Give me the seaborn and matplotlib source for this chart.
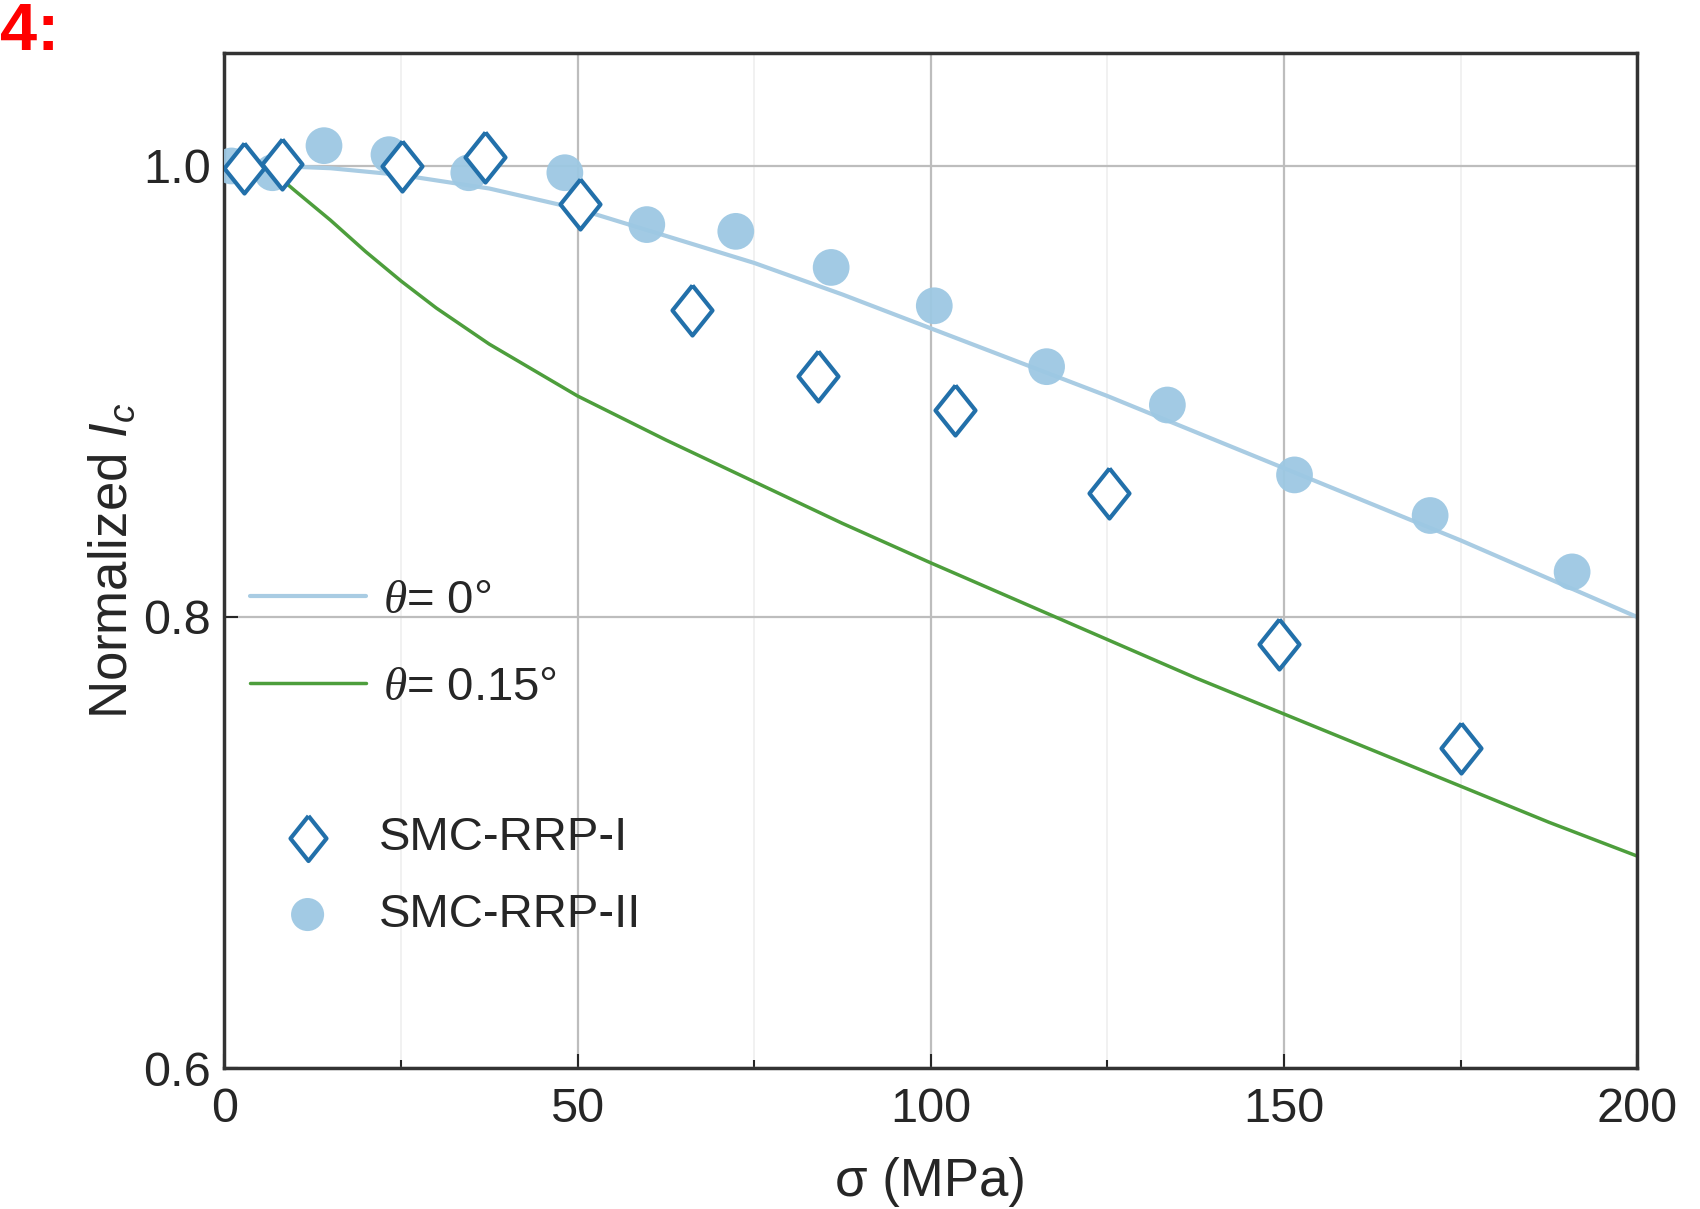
#!/usr/bin/env python3
"""Normalized Ic vs. transverse stress for SMC-RRP strands, with model curves."""

import matplotlib

matplotlib.use("Agg")

import matplotlib.pyplot as plt
import pandas as pd
import seaborn as sns
from matplotlib.ticker import MultipleLocator

rrp1_stress = [2.8, 8.1, 25.2, 36.9, 50.4, 66.2, 84.0, 103.5, 125.2, 149.3, 175.0]
rrp1_ic = [0.999, 1.001, 1.000, 1.004, 0.983, 0.936, 0.907, 0.892, 0.855, 0.788, 0.742]

rrp2_stress = [1.0, 6.8, 14.1, 23.3, 34.6, 48.2, 59.8, 72.4, 85.9, 100.5,
               116.4, 133.5, 151.5, 170.7, 190.8]
rrp2_ic = [1.000, 0.997, 1.009, 1.005, 0.997, 0.997, 0.974, 0.971, 0.955, 0.938,
           0.911, 0.894, 0.863, 0.845, 0.820]

# Model curves (theta = 0 deg and theta = 0.15 deg)
theta0_stress = [7, 15, 25, 37.5, 50, 62.5, 75, 87.5, 100, 112.5, 125, 137.5,
                 150, 162.5, 175, 187.5, 200]
theta0_ic = [1.000, 0.999, 0.996, 0.990, 0.981, 0.969, 0.957, 0.943, 0.928, 0.913,
             0.898, 0.882, 0.866, 0.850, 0.834, 0.817, 0.800]

theta15_stress = [7, 10, 15, 20, 25, 30, 37.5, 50, 62.5, 75, 87.5, 100, 112.5,
                  125, 137.5, 150, 162.5, 175, 187.5, 200]
theta15_ic = [0.997, 0.989, 0.976, 0.962, 0.949, 0.937, 0.921, 0.898, 0.8785, 0.860,
              0.8415, 0.824, 0.807, 0.790, 0.773, 0.757, 0.741, 0.725, 0.709, 0.694]

COL_LINE0 = "#a9cce3"
COL_LINE15 = "#4d9e3c"
COL_DIAMOND = "#2270aa"
COL_CIRCLE = "#9dc8e3"

LBL_T0 = r"$\theta$= 0°"
LBL_T15 = r"$\theta$= 0.15°"

sns.set_theme(style="ticks")
plt.rcParams["font.family"] = ["Liberation Sans Narrow", "Liberation Sans", "DejaVu Sans"]
plt.rcParams["mathtext.fontset"] = "custom"
plt.rcParams["mathtext.it"] = "Liberation Serif:italic"
plt.rcParams["mathtext.rm"] = "Liberation Sans"
plt.rcParams["mathtext.sf"] = "Liberation Sans:italic"

fig = plt.figure(figsize=(17, 12.09), dpi=100)
ax = fig.add_axes([0.132, 0.1166, 0.831, 0.8394])

df0 = pd.DataFrame({"stress": theta0_stress, "ic": theta0_ic})
df15 = pd.DataFrame({"stress": theta15_stress, "ic": theta15_ic})
sns.lineplot(data=df0, x="stress", y="ic", color=COL_LINE0, lw=3, ax=ax,
             label=LBL_T0, legend=False)
sns.lineplot(data=df15, x="stress", y="ic", color=COL_LINE15, lw=2.5, ax=ax,
             label=LBL_T15, legend=False)

sns.scatterplot(x=rrp2_stress, y=rrp2_ic, marker="o", s=700, color=COL_CIRCLE,
                edgecolor="none", alpha=0.95, ax=ax, label="SMC-RRP-II",
                legend=False, zorder=3)
diamond = [(0, 1), (0.8, 0), (0, -1), (-0.8, 0), (0, 1)]
sns.scatterplot(x=rrp1_stress, y=rrp1_ic, marker=diamond, s=1300, facecolor="white",
                edgecolor=COL_DIAMOND, linewidth=3, ax=ax, label="SMC-RRP-I",
                legend=False, zorder=4)

ax.set_xlim(0, 200)
ax.set_ylim(0.6, 1.05)
ax.xaxis.set_major_locator(MultipleLocator(50))
ax.xaxis.set_minor_locator(MultipleLocator(25))
ax.set_yticks([0.6, 0.8, 1.0])
ax.set_yticklabels(["0.6", "0.8", "1.0"])
ax.grid(which="major", color="#bdbdbd", lw=1.6)
ax.grid(which="minor", axis="x", color="#efefef", lw=1.2)
ax.tick_params(which="both", direction="in", labelsize=35, length=10, width=1.5,
               top=False, right=False)
ax.tick_params(axis="x", pad=14)
ax.tick_params(axis="y", pad=10)
ax.tick_params(which="minor", length=6)
for sp in ax.spines.values():
    sp.set_color("#333333")
    sp.set_linewidth(2.5)

ax.set_xlabel("σ (MPa)", fontsize=38, labelpad=18)
ax.set_ylabel(r"Normalized $\mathsf{I_c}$", fontsize=38, labelpad=4)

handles, labels = ax.get_legend_handles_labels()
hmap = dict(zip(labels, handles))
leg1 = ax.legend([hmap[LBL_T0], hmap[LBL_T15]], [LBL_T0, LBL_T15],
                 loc="upper left", bbox_to_anchor=(0.018, 0.482), frameon=False,
                 fontsize=34, handlelength=2.45, labelspacing=0.91, handletextpad=0.38,
                 borderpad=0, borderaxespad=0)
ax.add_artist(leg1)
ax.legend([hmap["SMC-RRP-I"], hmap["SMC-RRP-II"]], ["SMC-RRP-I", "SMC-RRP-II"],
          loc="upper left", bbox_to_anchor=(0.040, 0.248), frameon=False, fontsize=34,
          handlelength=1.13, labelspacing=0.69, handletextpad=0.94, markerscale=0.9,
          borderpad=0, borderaxespad=0)

fig.text(0.0, 0.998, "4:", color="red", fontsize=48, weight="bold",
         family=["Liberation Sans", "DejaVu Sans"], ha="left", va="top")

fig.savefig("out.png", dpi=100)
